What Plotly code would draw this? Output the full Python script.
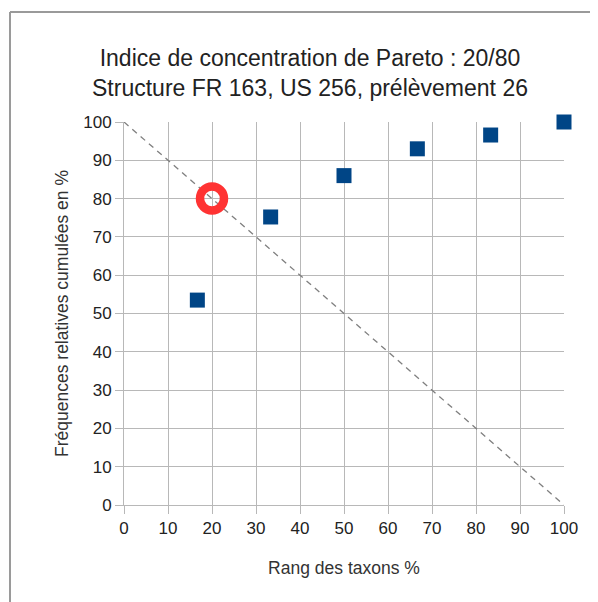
import plotly.graph_objects as go

rang = [16.67, 33.33, 50, 66.67, 83.33, 100]
freq = [53.5, 75.2, 86.0, 93.0, 96.6, 100.0]
diag_x = [0, 100]
diag_y = [100, 0]
pareto_x = [20]
pareto_y = [80]
ticks = [0, 10, 20, 30, 40, 50, 60, 70, 80, 90, 100]

# page is rendered with an 8px body margin; figure coordinates are offset by that
OFF = 8
W, H = 598, 602
L, T = 124 - OFF, 122 - OFF
PW, PH = 440, 383
R = W - L - PW
B = H - T - PH

fig = go.Figure()
fig.add_trace(go.Scatter(x=diag_x, y=diag_y, mode="lines",
                         line=dict(color="#7f7f7f", width=1.3, dash="6px,5px"),
                         hoverinfo="skip", cliponaxis=False))
fig.add_trace(go.Scatter(x=rang, y=freq, mode="markers",
                         marker=dict(symbol="square", size=15, color="#004586",
                                     line=dict(width=0)),
                         cliponaxis=False))
fig.add_trace(go.Scatter(x=pareto_x, y=pareto_y, mode="markers",
                         marker=dict(symbol="circle-open", size=24, color="#ff3333",
                                     line=dict(width=8.5, color="#ff3333")),
                         cliponaxis=False))

font = "Liberation Sans, Arial, sans-serif"
fig.update_layout(
    width=W, height=H,
    margin=dict(l=L, r=R, t=T, b=B, pad=0),
    paper_bgcolor="white", plot_bgcolor="white",
    showlegend=False,
    font=dict(family=font, color="#222222"),
    title=dict(text="Indice de concentration de Pareto : 20/80<br>Structure FR 163, US 256, prélèvement 26",
               x=(310 - OFF) / W, xanchor="center", y=1 - (66 - OFF) / H, yanchor="middle",
               font=dict(size=23, family=font, color="#222222")),
    xaxis=dict(range=[0, 100], tickvals=ticks, ticktext=[str(t) for t in ticks],
               showgrid=True, gridcolor="#b8b8b8", gridwidth=1,
               showline=True, linecolor="#b8b8b8", linewidth=1,
               ticks="outside", ticklen=8, tickcolor="#b8b8b8",
               zeroline=False, tickfont=dict(size=17, color="#222222"),
               title=dict(text="Rang des taxons %", font=dict(size=17.5, color="#333333"), standoff=24)),
    yaxis=dict(range=[0, 100], tickvals=ticks, ticktext=[str(t) for t in ticks],
               showgrid=True, gridcolor="#b8b8b8", gridwidth=1,
               showline=True, linecolor="#b8b8b8", linewidth=1,
               ticks="outside", ticklen=8, tickcolor="#b8b8b8",
               zeroline=False, tickfont=dict(size=17, color="#222222"),
               title=dict(text="Fréquences relatives cumulées en %", font=dict(size=17.5, color="#333333"), standoff=10)),
)

# outer frame (top and left edges of the chart box)
fx = (10 - 124) / PW
fy_top = (505 - 12) / PH
fig.add_shape(type="line", xref="paper", yref="paper",
              x0=fx, x1=(620 - 124) / PW, y0=fy_top, y1=fy_top,
              line=dict(color="#9a9a9a", width=2))
fig.add_shape(type="line", xref="paper", yref="paper",
              x0=fx, x1=fx, y0=fy_top, y1=(505 - 620) / PH,
              line=dict(color="#9a9a9a", width=2))

fig.write_html("out.html")
